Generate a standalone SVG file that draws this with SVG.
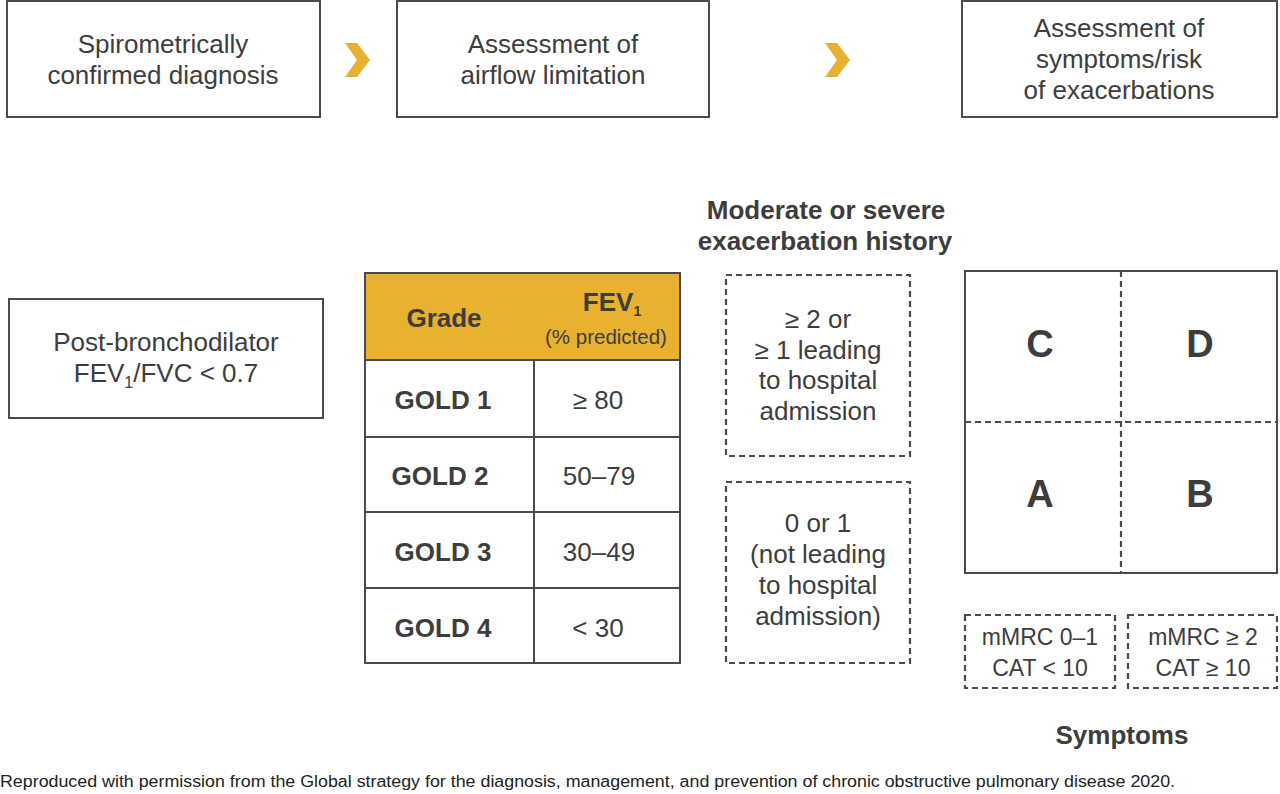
<svg xmlns="http://www.w3.org/2000/svg" width="1280" height="794" viewBox="0 0 1280 794">
<style>
text{font-family:"Liberation Sans",Arial,sans-serif;fill:#3d3d3d;text-anchor:middle}
.box{fill:#fff;stroke:#4a4a4a;stroke-width:2}
.dash{fill:none;stroke:#4a4a4a;stroke-width:2.2;stroke-dasharray:6 4}
.t24{font-size:26px}
.t22{font-size:26px}
.b22{font-size:26px;font-weight:bold}
.big{font-size:38px;font-weight:bold}
.chev{fill:#e8b12f}
</style>
<rect width="1280" height="794" fill="#fff"/>
<g id="step1"><rect class="box" x="7" y="1" width="313" height="116"/>
<text class="t24" x="163" y="53">Spirometrically</text><text class="t24" x="163" y="84">confirmed diagnosis</text></g>
<g id="step2"><rect class="box" x="397" y="1" width="312" height="116"/>
<text class="t24" x="553" y="53">Assessment of</text><text class="t24" x="553" y="84">airflow limitation</text></g>
<g id="step3"><rect class="box" x="962" y="1" width="315" height="116"/>
<text class="t24" x="1119" y="37">Assessment of</text><text class="t24" x="1119" y="68">symptoms/risk</text><text class="t24" x="1119" y="99">of exacerbations</text></g>
<g id="connectors">
<polygon class="chev" points="345,43 357,43 370,60 357,77 345,77 357,60"/>
<polygon class="chev" points="825,43 837,43 850,60 837,77 825,77 837,60"/>
</g>
<g id="spiro"><rect class="box" x="9" y="299" width="314" height="119"/>
<text class="t24" x="166" y="351">Post-bronchodilator</text>
<text class="t24" x="166" y="382">FEV<tspan font-size="16" dy="6">1</tspan><tspan dy="-6">/FVC &lt; 0.7</tspan></text></g>
<g id="table">
<rect x="365" y="273" width="315" height="87" fill="#e8b12f" stroke="#4a4a4a" stroke-width="2"/>
<rect class="box" x="365" y="360" width="315" height="303"/>
<line x1="534" y1="360" x2="534" y2="663" stroke="#4a4a4a" stroke-width="2"/>
<line x1="365" y1="437" x2="680" y2="437" stroke="#4a4a4a" stroke-width="2"/>
<line x1="365" y1="512" x2="680" y2="512" stroke="#4a4a4a" stroke-width="2"/>
<line x1="365" y1="588" x2="680" y2="588" stroke="#4a4a4a" stroke-width="2"/>
<text class="b22" x="444" y="327">Grade</text>
<text class="b22" x="612" y="311">FEV<tspan font-size="14" dy="5">1</tspan></text>
<text x="606" y="344" font-size="20.5">(% predicted)</text>
<text class="b22" x="443" y="409">GOLD 1</text><text class="t22" x="598" y="409">≥ 80</text>
<text class="b22" x="440" y="485">GOLD 2</text><text class="t22" x="599" y="485">50–79</text>
<text class="b22" x="443" y="561">GOLD 3</text><text class="t22" x="599" y="561">30–49</text>
<text class="b22" x="443" y="637">GOLD 4</text><text class="t22" x="598" y="637">&lt; 30</text>
</g>
<g id="exac-title"><text class="b22" x="826" y="219" font-size="27">Moderate or severe</text><text class="b22" x="825" y="250">exacerbation history</text></g>
<g id="exac-high"><rect class="dash" x="726" y="275" width="184" height="181"/>
<text class="t22" x="818" y="328">≥ 2 or</text><text class="t22" x="818" y="359">≥ 1 leading</text><text class="t22" x="818" y="389">to hospital</text><text class="t22" x="818" y="420">admission</text></g>
<g id="exac-low"><rect class="dash" x="726" y="482" width="184" height="181"/>
<text class="t22" x="818" y="532">0 or 1</text><text class="t22" x="818" y="563">(not leading</text><text class="t22" x="818" y="594">to hospital</text><text class="t22" x="818" y="625">admission)</text></g>
<g id="grid"><rect class="box" x="965" y="271" width="312" height="302"/>
<line class="dash" x1="1121" y1="271" x2="1121" y2="573"/>
<line class="dash" x1="965" y1="422" x2="1277" y2="422"/>
<text class="big" x="1040" y="357">C</text><text class="big" x="1200" y="357">D</text>
<text class="big" x="1040" y="507">A</text><text class="big" x="1200" y="507">B</text></g>
<g id="sym-low"><rect class="dash" x="965" y="615" width="150" height="73"/>
<text x="1040" y="645" font-size="23">mMRC 0–1</text><text x="1040" y="676" font-size="23">CAT &lt; 10</text></g>
<g id="sym-high"><rect class="dash" x="1128" y="615" width="149" height="73"/>
<text x="1203" y="645" font-size="23">mMRC ≥ 2</text><text x="1203" y="676" font-size="23">CAT ≥ 10</text></g>
<g id="sym-title"><text class="b22" x="1122" y="744">Symptoms</text></g>
<text x="0" y="787" font-size="16" style="text-anchor:start;fill:#222" textLength="1175" lengthAdjust="spacingAndGlyphs">Reproduced with permission from the Global strategy for the diagnosis, management, and prevention of chronic obstructive pulmonary disease 2020.</text>
</svg>
